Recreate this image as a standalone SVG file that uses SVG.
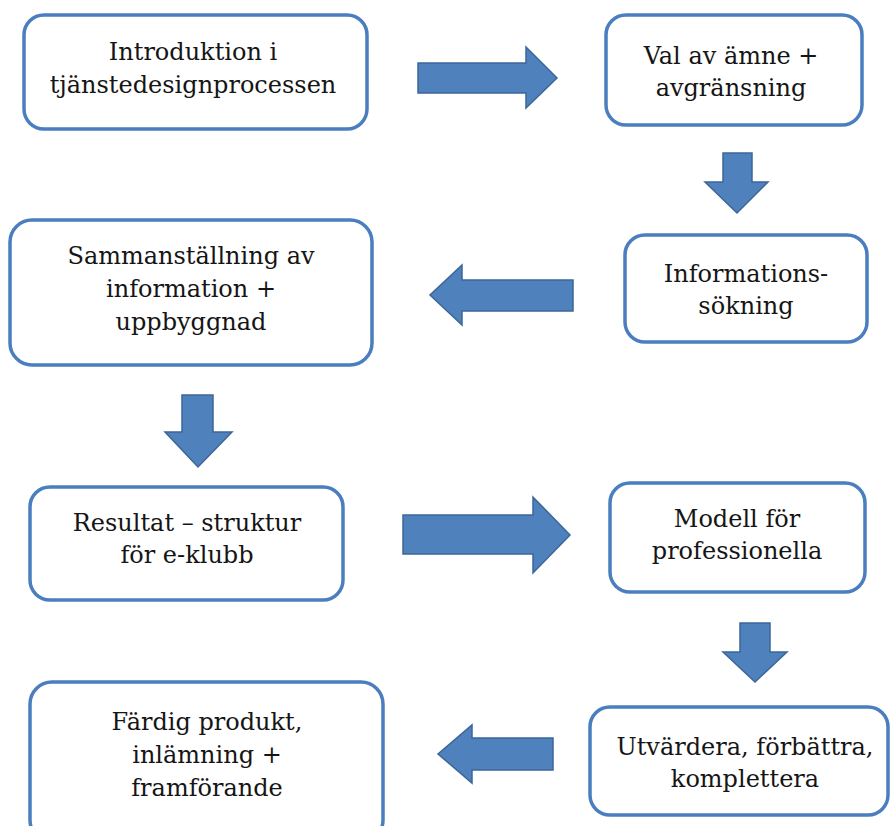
<svg xmlns="http://www.w3.org/2000/svg" width="890" height="826" viewBox="0 0 890 826">
<style>
.box{fill:#ffffff;stroke:#4a7ebf;stroke-width:3.5}
.lbl{font-family:"DejaVu Serif","Liberation Serif",serif;font-size:24px;fill:#151515;text-anchor:middle}
.arr{fill:#4f81bd;stroke:#3b6699;stroke-width:1.5;stroke-linejoin:miter}
</style>
<rect width="890" height="826" fill="#ffffff"/>
<g id="connectors">
<path class="arr" d="M418,63 H526 V47 L557,78 L526,108 V93 H418 Z"/>
<path class="arr" d="M723,153 H752 V182 H768 L737,213 L705,182 H723 Z"/>
<path class="arr" d="M573,280 H462 V265 L430,295 L462,325 V311 H573 Z"/>
<path class="arr" d="M182,395 H213 V432 H232 L198,467 L165,432 H182 Z"/>
<path class="arr" d="M403,515 H533 V497 L570,535 L533,573 V554 H403 Z"/>
<path class="arr" d="M740,623 H770 V652 H787 L755,682 L723,652 H740 Z"/>
<path class="arr" d="M553,738 H472 V725 L438,754 L472,783 V770 H553 Z"/>
</g>
<g id="n1">
<rect class="box" x="24" y="15" width="343" height="114" rx="20"/>
<text class="lbl" x="193" y="60">Introduktion i</text>
<text class="lbl" x="193" y="93">tjänstedesignprocessen</text>
</g>
<g id="n2">
<rect class="box" x="606" y="15" width="256" height="110" rx="20"/>
<text class="lbl" x="731" y="64">Val av ämne +</text>
<text class="lbl" x="731" y="96">avgränsning</text>
</g>
<g id="n3">
<rect class="box" x="10" y="220" width="362" height="145" rx="22"/>
<text class="lbl" x="191" y="264">Sammanställning av</text>
<text class="lbl" x="191" y="297">information +</text>
<text class="lbl" x="191" y="330">uppbyggnad</text>
</g>
<g id="n4">
<rect class="box" x="625" y="235" width="242" height="107" rx="20"/>
<text class="lbl" x="746" y="282">Informations-</text>
<text class="lbl" x="746" y="314">sökning</text>
</g>
<g id="n5">
<rect class="box" x="30" y="487" width="313" height="113" rx="20"/>
<text class="lbl" x="187" y="531">Resultat – struktur</text>
<text class="lbl" x="187" y="563">för e-klubb</text>
</g>
<g id="n6">
<rect class="box" x="610" y="483" width="255" height="109" rx="20"/>
<text class="lbl" x="737" y="527">Modell för</text>
<text class="lbl" x="737" y="559">professionella</text>
</g>
<g id="n7">
<rect class="box" x="590" y="707" width="298" height="108" rx="20"/>
<text class="lbl" x="745" y="755">Utvärdera, förbättra,</text>
<text class="lbl" x="745" y="787">komplettera</text>
</g>
<g id="n8">
<rect class="box" x="30" y="682" width="353" height="160" rx="22"/>
<text class="lbl" x="207" y="730">Färdig produkt,</text>
<text class="lbl" x="207" y="763">inlämning +</text>
<text class="lbl" x="207" y="796">framförande</text>
</g>
</svg>
